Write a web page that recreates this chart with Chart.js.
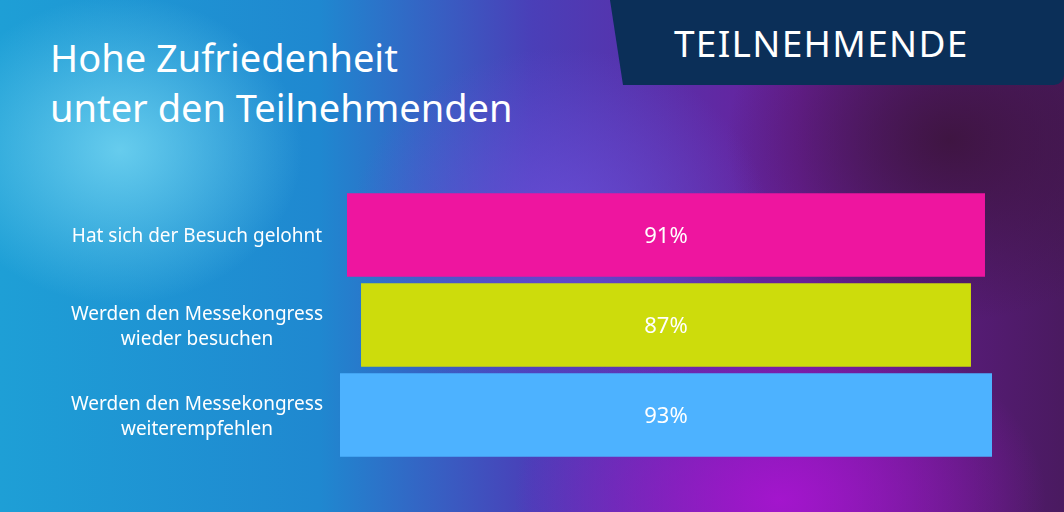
<!DOCTYPE html>
<html><head><meta charset="utf-8">
<script src="https://cdn.jsdelivr.net/npm/chart.js@4"></script>
<style>
html,body{margin:0;padding:0;width:1064px;height:512px;overflow:hidden;font-family:"Noto Sans",sans-serif}
#bg{position:absolute;left:0;top:0;width:1064px;height:512px;
background:
 radial-gradient(ellipse 260px 220px at 120px 150px, rgba(110,210,240,0.9), rgba(110,210,240,0) 70%),
 radial-gradient(ellipse 300px 260px at 560px 230px, rgba(110,80,220,0.8), rgba(110,80,220,0) 70%),
 radial-gradient(ellipse 320px 260px at 950px 140px, rgba(60,20,60,0.9), rgba(60,20,60,0) 70%),
 radial-gradient(ellipse 380px 260px at 780px 500px, rgba(170,20,210,0.9), rgba(170,20,210,0) 70%),
 linear-gradient(90deg,#1e9fd6 0%,#1f88d0 30%,#4a3fb8 50%,#6a1f9a 75%,#4a1a60 100%);}
#title{position:absolute;left:50px;top:32px;color:#fff;font-size:38px;line-height:50px;font-family:"Noto Sans",sans-serif}
#banner{position:absolute;left:610px;top:0;width:454px;height:85px;background:#0b2f58;clip-path:polygon(0 0,100% 0,100% 100%,13px 100%);border-radius:0 0 10px 0}
#banner span{position:absolute;left:64px;top:17px;color:#fff;font-size:37px;letter-spacing:1.3px}
canvas{position:absolute;left:0;top:0}
</style></head>
<body>
<div id="bg"></div>
<div id="title">Hohe Zufriedenheit<br>unter den Teilnehmenden</div>
<div id="banner"><span>TEILNEHMENDE</span></div>
<canvas id="c" width="1064" height="512"></canvas>
<script>
const categories = [
  ["Hat sich der Besuch gelohnt"],
  ["Werden den Messekongress", "wieder besuchen"],
  ["Werden den Messekongress", "weiterempfehlen"]
];
const values = [91, 87, 93];
const barColors = ["#ee159f", "#cddc0c", "#4db2ff"];

const labelPlugin = {
  id: "labels",
  afterDatasetsDraw(chart) {
    const ctx = chart.ctx;
    const meta = chart.getDatasetMeta(0);
    ctx.save();
    ctx.fillStyle = "#fff";
    ctx.textAlign = "center";
    ctx.textBaseline = "middle";
    meta.data.forEach((bar, i) => {
      ctx.font = "22px 'Noto Sans'";
      ctx.fillText(values[i] + "%", (bar.x + bar.base) / 2, bar.y + 2);
      // category label, centred lines
      ctx.font = "19px 'Noto Sans'";
      const lines = categories[i];
      const lh = 25;
      lines.forEach((t, j) => {
        ctx.fillText(t, 197, bar.y + 2 + (j - (lines.length - 1) / 2) * lh);
      });
    });
    ctx.restore();
  }
};

new Chart(document.getElementById("c"), {
  type: "bar",
  data: {
    labels: categories,
    datasets: [{
      data: values.map(v => [-v / 2, v / 2]),
      backgroundColor: barColors,
      barPercentage: 0.93,
      categoryPercentage: 1
    }]
  },
  options: {
    indexAxis: "y",
    responsive: false,
    animation: false,
    layout: { padding: { top: 190, bottom: 52, right: 72, left: 0 } },
    plugins: { legend: { display: false }, tooltip: { enabled: false } },
    scales: {
      x: { min: -46.5, max: 46.5, display: false },
      y: {
        grid: { display: false },
        border: { display: false },
        ticks: { display: false },
        afterFit(axis) { axis.width = 340; }
      }
    }
  },
  plugins: [labelPlugin]
});
</script>
</body></html>
